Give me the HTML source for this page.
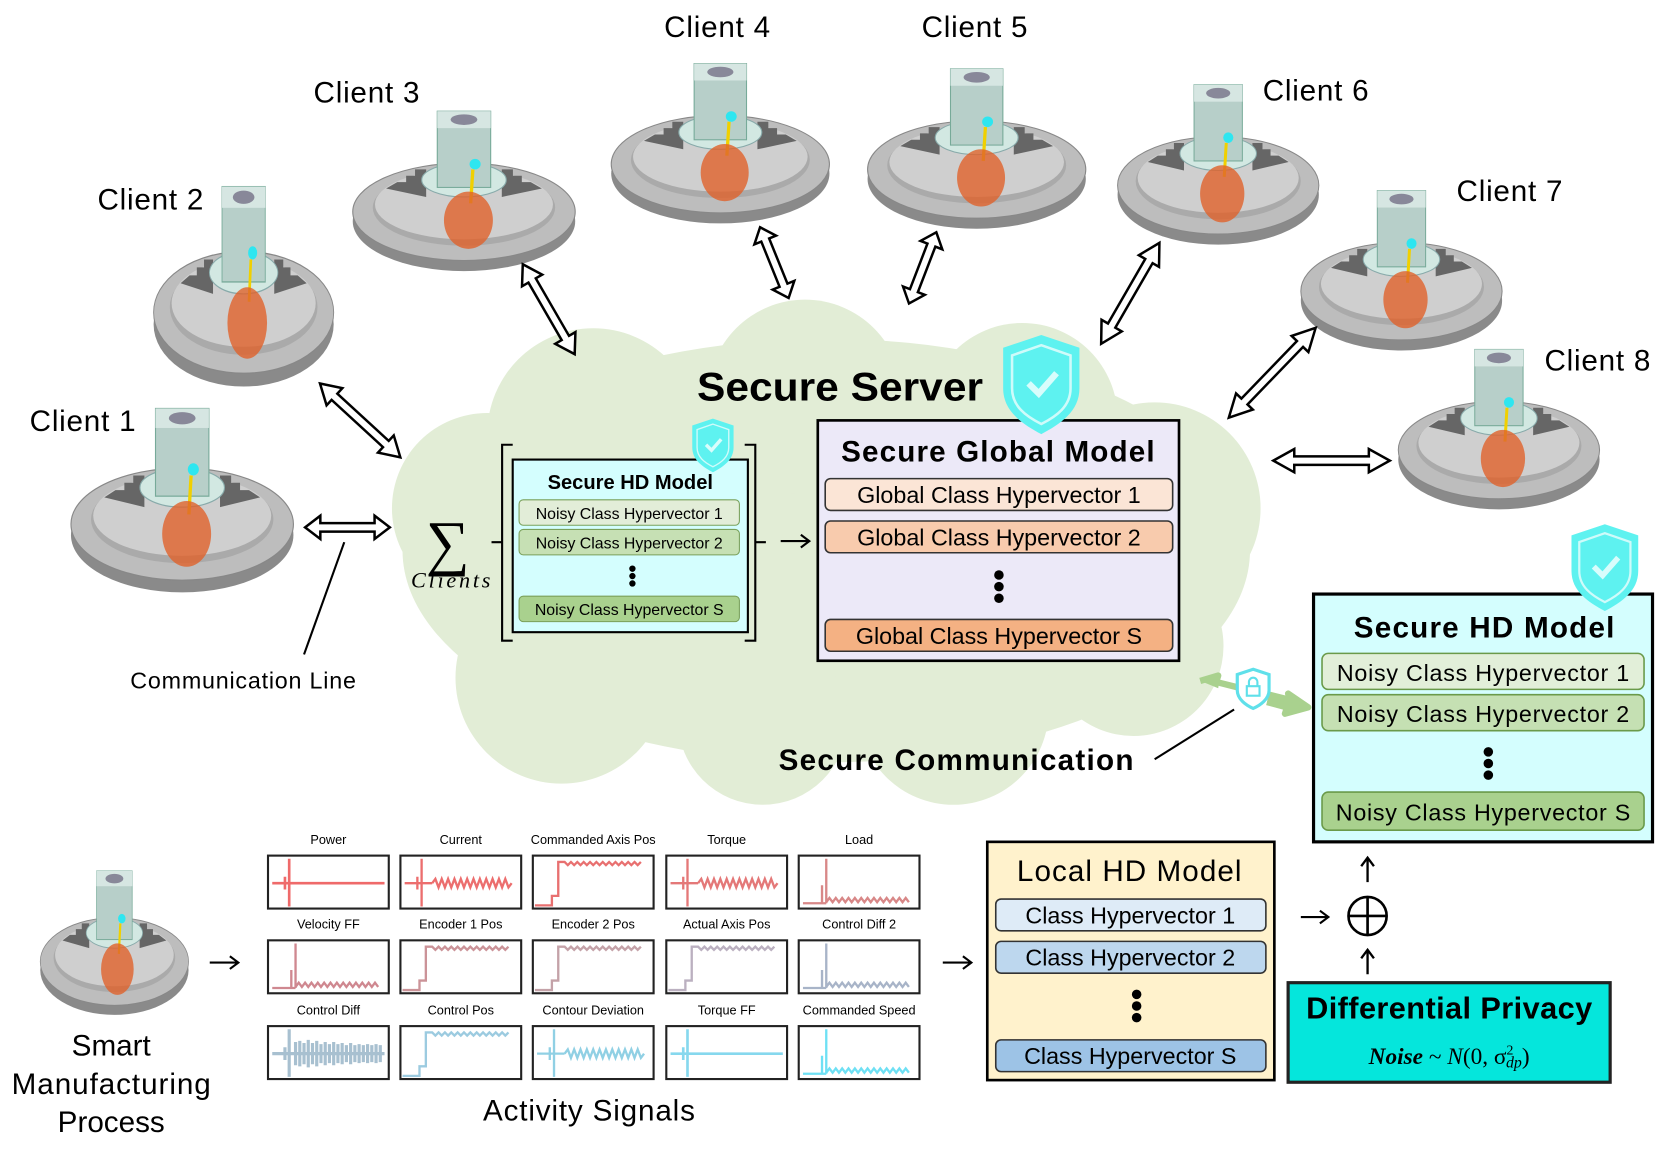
<!DOCTYPE html>
<html><head><meta charset="utf-8">
<style>
html,body{margin:0;padding:0;background:#fff;}
svg{display:block;}
.s{font-family:"Liberation Sans",sans-serif;}
.sf{font-family:"Liberation Serif","DejaVu Serif",serif;}
</style></head>
<body>
<svg width="1661" height="1150" viewBox="0 0 1568 1086" preserveAspectRatio="none" xmlns="http://www.w3.org/2000/svg" class="s" font-family="Liberation Sans, sans-serif">
<defs>
 <g id="mach">
  <ellipse cx="0" cy="9" rx="100" ry="47" fill="#8a8a8a"/>
  <ellipse cx="0" cy="0" rx="100" ry="46" fill="#bdbdbd" stroke="#888" stroke-width="1"/>
  <ellipse cx="0" cy="-4" rx="82" ry="36" fill="#aaaaaa"/>
  <ellipse cx="0" cy="-7" rx="80" ry="33" fill="#cfcfcf"/>
  <path d="M-70,-22 l10,-6 h8 v-6 h8 v-6 h10 v26 z" fill="#666"/>
  <path d="M70,-22 l-10,-6 h-8 v-6 h-8 v-6 h-10 v26 z" fill="#666"/>
  <ellipse cx="0" cy="-30" rx="38" ry="16" fill="#d2e8e2" stroke="#8aa" stroke-width="1"/>
  <rect x="-24" y="-95" width="48" height="72" fill="#b7cfc9" stroke="#7a9" stroke-width="1"/>
  <rect x="-24" y="-95" width="48" height="16" fill="#d6e6e2"/>
  <ellipse cx="0" cy="-87" rx="12" ry="5" fill="#889"/>
  <circle cx="10" cy="-45" r="5" fill="#2ee6f0"/>
  <line x1="8" y1="-40" x2="6" y2="-8" stroke="#f0d000" stroke-width="3"/>
  <ellipse cx="4" cy="8" rx="22" ry="27" fill="#e0622a" opacity="0.8"/>
 </g>
 <g id="shield">
  <path d="M0,-38 L30,-28 L30,4 C30,22 15,32 0,40 C-15,32 -30,22 -30,4 L-30,-28 Z" fill="#5ef2f0"/>
  <path d="M0,-30 L23,-22 L23,4 C23,18 12,26 0,32 C-12,26 -23,18 -23,4 L-23,-22 Z" fill="none" stroke="#cffbfa" stroke-width="2"/>
  <path d="M-10,0 L-2,8 L12,-8" fill="none" stroke="#d8fdfc" stroke-width="5"/>
 </g>
 <polygon id="darrow" points="-50,0 -32,-11 -32,-4 32,-4 32,-11 50,0 32,11 32,4 -32,4 -32,11" fill="#fff" stroke="#000" stroke-width="2.5" vector-effect="non-scaling-stroke"/>
 <path id="spikeflat" d="M4,26 H110 M16,26 v-6 v12 M20,3 V48" fill="none" stroke="currentColor" stroke-width="2.5"/>
 <path id="spikewave" d="M4,26 H30 M16,26 v-6 v12 M20,3 V48 M30,26 l3,-4 l3,8 l3,-8 l3,8 l3,-8 l3,8 l3,-8 l3,8 l3,-8 l3,8 l3,-8 l3,8 l3,-8 l3,8 l3,-8 l3,8 l3,-8 l3,8 l3,-8 l3,8 l3,-8 l3,8 l3,-8 l3,8 l3,-4" fill="none" stroke="currentColor" stroke-width="2.2"/>
 <path id="step" d="M2,47 H18 V38 H24 V6 H30 l3,3 l3,-3 l3,3 l3,-3 l3,3 l3,-3 l3,3 l3,-3 l3,3 l3,-3 l3,3 l3,-3 l3,3 l3,-3 l3,3 l3,-3 l3,3 l3,-3 l3,3 l3,-3 l3,3 l3,-3 l3,3 l3,-3" fill="none" stroke="currentColor" stroke-width="2.2"/>
 <path id="decay" d="M4,45 H26 M22,45 V28 M26,45 V3 M26,44 l3,-4 l3,4 l3,-4 l3,4 l3,-4 l3,4 l3,-4 l3,4 l3,-4 l3,4 l3,-4 l3,4 l3,-4 l3,4 l3,-4 l3,4 l3,-4 l3,4 l3,-4 l3,4 l3,-4 l3,4 l3,-4 l3,4 l3,-4 l3,4" fill="none" stroke="currentColor" stroke-width="2.2"/>
 <path id="noisy" d="M4,26 H110 M20,3 V48 M16,20 v12 M26,15 v22 M30,14 v24 M34,16 v20 M38,13 v26 M42,16 v20 M46,14 v24 M50,17 v18 M54,15 v22 M58,17 v18 M62,15 v22 M66,17 v18 M70,16 v20 M74,18 v16 M78,16 v20 M82,18 v16 M86,17 v18 M90,18 v16 M94,17 v18 M98,18 v16 M102,17 v18 M106,18 v16" fill="none" stroke="currentColor" stroke-width="3"/>
</defs>

<!-- cloud -->
<g fill="#e2edd6">
 <ellipse cx="780" cy="520" rx="400" ry="200"/>
 <circle cx="560" cy="410" r="100"/>
 <circle cx="760" cy="375" r="92"/>
 <circle cx="965" cy="395" r="90"/>
 <circle cx="1090" cy="480" r="100"/>
 <circle cx="460" cy="480" r="90"/>
 <circle cx="530" cy="640" r="100"/>
 <circle cx="720" cy="680" r="80"/>
 <circle cx="900" cy="670" r="90"/>
 <circle cx="1070" cy="610" r="85"/>
</g>

<!-- clients -->
<use href="#mach" transform="translate(172,495) scale(1.05,1.15)"/>
<use href="#mach" transform="translate(230,295) scale(0.85,1.25)"/>
<use href="#mach" transform="translate(438,200) scale(1.05,1)"/>
<use href="#mach" transform="translate(680,155) scale(1.03,1)"/>
<use href="#mach" transform="translate(922,160) scale(1.03,1)"/>
<use href="#mach" transform="translate(1150,175) scale(0.95,1)"/>
<use href="#mach" transform="translate(1323,275) scale(0.95,1)"/>
<use href="#mach" transform="translate(1415,425) scale(0.95,1)"/>
<use href="#mach" transform="translate(108,908) scale(0.7,0.9)"/>

<g font-size="28" fill="#000">
 <text x="28" y="407" textLength="100">Client 1</text>
 <text x="92" y="198" textLength="100">Client 2</text>
 <text x="296" y="97" textLength="100">Client 3</text>
 <text x="627" y="35" textLength="100">Client 4</text>
 <text x="870" y="35" textLength="100">Client 5</text>
 <text x="1192" y="95" textLength="100">Client 6</text>
 <text x="1375" y="190" textLength="100">Client 7</text>
 <text x="1458" y="350" textLength="100">Client 8</text>
</g>

<!-- double arrows -->
<use href="#darrow" transform="translate(328,498) scale(0.8,1)"/>
<use href="#darrow" transform="translate(340,397) rotate(42.6) scale(1.03,1)"/>
<use href="#darrow" transform="translate(518,292) rotate(60) scale(0.98,1)"/>
<use href="#darrow" transform="translate(731,248) rotate(68) scale(0.72,1)"/>
<use href="#darrow" transform="translate(871,253) rotate(111) scale(0.72,1)"/>
<use href="#darrow" transform="translate(1067,277) rotate(120) scale(1.1,1)"/>
<use href="#darrow" transform="translate(1201,352) rotate(134) scale(1.18,1)"/>
<use href="#darrow" transform="translate(1257,435) scale(1.1,1)"/>

<line x1="287" y1="618" x2="325" y2="512" stroke="#000" stroke-width="2"/>
<text x="123" y="650" font-size="22" textLength="213">Communication Line</text>

<!-- server -->
<text x="658" y="378" font-size="38" font-weight="bold" textLength="270" lengthAdjust="spacingAndGlyphs">Secure Server</text>

<!-- sigma -->
<text x="402" y="532" font-size="58" class="sf" style="font-family:'Liberation Serif','DejaVu Serif',serif">∑</text>
<text x="388" y="555" font-size="21" font-style="italic" style="font-family:'Liberation Serif','DejaVu Serif',serif" textLength="75">Clients</text>
<path d="M484,420 h-10 v92 h-10 h10 v93 h10" fill="none" stroke="#000" stroke-width="2"/>
<path d="M703,420 h10 v92 h10 h-10 v93 h-10" fill="none" stroke="#000" stroke-width="2"/>

<rect x="484" y="434" width="222" height="163" fill="#d4fefe" stroke="#000" stroke-width="2"/>
<text x="595" y="462" font-size="19" font-weight="bold" text-anchor="middle">Secure HD Model</text>
<rect x="490" y="472" width="208" height="24" rx="4" fill="#e2edd8" stroke="#7aa05a"/>
<rect x="490" y="500" width="208" height="24" rx="4" fill="#c6e0b4" stroke="#7aa05a"/>
<rect x="490" y="563" width="208" height="24" rx="4" fill="#a9d18e" stroke="#7aa05a"/>
<g font-size="15" text-anchor="middle">
 <text x="594" y="490">Noisy Class Hypervector 1</text>
 <text x="594" y="518">Noisy Class Hypervector 2</text>
 <text x="594" y="581">Noisy Class Hypervector S</text>
</g>
<g fill="#000"><circle cx="597" cy="537" r="3"/><circle cx="597" cy="544" r="3"/><circle cx="597" cy="551" r="3"/></g>
<use href="#shield" transform="translate(673,420) scale(0.65)"/>

<path d="M737,511 H764 M756,505 L764,511 L756,517" fill="none" stroke="#000" stroke-width="2"/>

<rect x="772" y="397" width="341" height="227" fill="#ece9f8" stroke="#000" stroke-width="2.5"/>
<text x="942" y="436" font-size="28" font-weight="bold" text-anchor="middle" textLength="296">Secure Global Model</text>
<rect x="779" y="452" width="328" height="30" rx="5" fill="#fbe5d6" stroke="#333" stroke-width="1.5"/>
<rect x="779" y="492" width="328" height="30" rx="5" fill="#f8cbad" stroke="#333" stroke-width="1.5"/>
<rect x="779" y="585" width="328" height="30" rx="5" fill="#f4b183" stroke="#333" stroke-width="1.5"/>
<g font-size="22" text-anchor="middle">
 <text x="943" y="475">Global Class Hypervector 1</text>
 <text x="943" y="515">Global Class Hypervector 2</text>
 <text x="943" y="608">Global Class Hypervector S</text>
</g>
<g fill="#000"><circle cx="943" cy="543" r="4.5"/><circle cx="943" cy="554" r="4.5"/><circle cx="943" cy="565" r="4.5"/></g>
<use href="#shield" transform="translate(983,362) scale(1.2)"/>

<!-- right secure HD -->
<rect x="1240" y="561" width="320" height="234" fill="#d4fefe" stroke="#000" stroke-width="3"/>
<text x="1401" y="602" font-size="28" font-weight="bold" text-anchor="middle" textLength="246">Secure HD Model</text>
<rect x="1248" y="617" width="304" height="34" rx="6" fill="#e2efd9" stroke="#6a9a4a" stroke-width="1.5"/>
<rect x="1248" y="656" width="304" height="34" rx="6" fill="#c5e0b3" stroke="#6a9a4a" stroke-width="1.5"/>
<rect x="1248" y="748" width="304" height="36" rx="6" fill="#a9d18e" stroke="#6a9a4a" stroke-width="1.5"/>
<g font-size="22" text-anchor="middle">
 <text x="1400" y="643" textLength="276">Noisy Class Hypervector 1</text>
 <text x="1400" y="682" textLength="276">Noisy Class Hypervector 2</text>
 <text x="1400" y="775" textLength="278">Noisy Class Hypervector S</text>
</g>
<g fill="#000"><circle cx="1405" cy="710" r="4.5"/><circle cx="1405" cy="721" r="4.5"/><circle cx="1405" cy="732" r="4.5"/></g>
<use href="#shield" transform="translate(1515,535) scale(1.05)"/>

<!-- secure communication -->
<path d="M1133,643 L1150,638 L1148,644 L1168,649 M1198,656 L1218,661 L1216,655 L1235,668 L1213,674 L1215,668 L1196,663" fill="#a9d18e" stroke="#a9d18e" stroke-width="6" stroke-linejoin="round"/>
<polygon points="1133,643 1152,636 1150,650" fill="#a9d18e"/>
<path d="M1183,632 L1198,637 L1198,652 C1198,660 1190,666 1183,669 C1176,666 1168,660 1168,652 L1168,637 Z" fill="#fff" stroke="#5fe0ea" stroke-width="3"/>
<rect x="1177" y="648" width="12" height="9" fill="none" stroke="#5fe0ea" stroke-width="2"/>
<path d="M1179,648 v-4 a4,4 0 0 1 8,0 v4" fill="none" stroke="#5fe0ea" stroke-width="2"/>
<line x1="1090" y1="717" x2="1165" y2="670" stroke="#000" stroke-width="2"/>
<text x="735" y="727" font-size="28" font-weight="bold" textLength="335">Secure Communication</text>

<!-- bottom -->
<g font-size="28" text-anchor="middle">
 <text x="105" y="997">Smart</text>
 <text x="105" y="1033" textLength="188">Manufacturing</text>
 <text x="105" y="1069">Process</text>
 <text x="556" y="1058" textLength="200">Activity Signals</text>
</g>
<path d="M198,909 H225 M217,903 L225,909 L217,915" fill="none" stroke="#000" stroke-width="2"/>
<path d="M890,909 H917 M909,903 L917,909 L909,915" fill="none" stroke="#000" stroke-width="2"/>

<g font-size="12" text-anchor="middle">
 <text x="310" y="797">Power</text><text x="435" y="797">Current</text><text x="560" y="797">Commanded Axis Pos</text><text x="686" y="797">Torque</text><text x="811" y="797">Load</text>
 <text x="310" y="877">Velocity FF</text><text x="435" y="877">Encoder 1 Pos</text><text x="560" y="877">Encoder 2 Pos</text><text x="686" y="877">Actual Axis Pos</text><text x="811" y="877">Control Diff 2</text>
 <text x="310" y="958">Control Diff</text><text x="435" y="958">Control Pos</text><text x="560" y="958">Contour Deviation</text><text x="686" y="958">Torque FF</text><text x="811" y="958">Commanded Speed</text>
</g>
<g fill="#fff" stroke="#222" stroke-width="2">
 <rect x="253" y="808" width="114" height="50"/><rect x="378" y="808" width="114" height="50"/><rect x="503" y="808" width="114" height="50"/><rect x="629" y="808" width="114" height="50"/><rect x="754" y="808" width="114" height="50"/>
 <rect x="253" y="888" width="114" height="50"/><rect x="378" y="888" width="114" height="50"/><rect x="503" y="888" width="114" height="50"/><rect x="629" y="888" width="114" height="50"/><rect x="754" y="888" width="114" height="50"/>
 <rect x="253" y="969" width="114" height="50"/><rect x="378" y="969" width="114" height="50"/><rect x="503" y="969" width="114" height="50"/><rect x="629" y="969" width="114" height="50"/><rect x="754" y="969" width="114" height="50"/>
</g>
<use href="#spikeflat" x="253" y="808" style="color:#ef6a6a"/>
<use href="#spikewave" x="378" y="808" style="color:#ec6e6e"/>
<use href="#step" x="503" y="808" style="color:#e87070"/>
<use href="#spikewave" x="629" y="808" style="color:#e47878"/>
<use href="#decay" x="754" y="808" style="color:#d88888"/>
<use href="#decay" x="253" y="888" style="color:#cf8890"/>
<use href="#step" x="378" y="888" style="color:#cb9398"/>
<use href="#step" x="503" y="888" style="color:#c4a2a8"/>
<use href="#step" x="629" y="888" style="color:#bbb0c0"/>
<use href="#decay" x="754" y="888" style="color:#a8b4c8"/>
<use href="#noisy" x="253" y="969" style="color:#a8c0d0"/>
<use href="#step" x="378" y="969" style="color:#9ccbe0"/>
<use href="#spikewave" x="503" y="969" style="color:#90d0e4"/>
<use href="#spikeflat" x="629" y="969" style="color:#86d8ee"/>
<use href="#decay" x="754" y="969" style="color:#6ee0f4"/>

<!-- local HD -->
<rect x="932" y="795" width="271" height="225" fill="#fff2cc" stroke="#000" stroke-width="2.5"/>
<text x="1066" y="832" font-size="28" text-anchor="middle" textLength="212">Local HD Model</text>
<rect x="940" y="849" width="255" height="30" rx="5" fill="#deebf7" stroke="#333" stroke-width="1.5"/>
<rect x="940" y="889" width="255" height="30" rx="5" fill="#bdd7ee" stroke="#333" stroke-width="1.5"/>
<rect x="940" y="982" width="255" height="30" rx="5" fill="#9dc3e6" stroke="#333" stroke-width="1.5"/>
<g font-size="22" text-anchor="middle">
 <text x="1067" y="872">Class Hypervector 1</text>
 <text x="1067" y="912">Class Hypervector 2</text>
 <text x="1067" y="1005">Class Hypervector S</text>
</g>
<g fill="#000"><circle cx="1073" cy="939" r="4.5"/><circle cx="1073" cy="950" r="4.5"/><circle cx="1073" cy="961" r="4.5"/></g>

<path d="M1228,866 H1254 M1246,860 L1254,866 L1246,872" fill="none" stroke="#000" stroke-width="2"/>
<circle cx="1291" cy="865" r="18" fill="none" stroke="#000" stroke-width="2.5"/>
<path d="M1273,865 H1309 M1291,847 V883" stroke="#000" stroke-width="2.5"/>
<path d="M1291,833 V810 M1285,818 L1291,810 L1297,818" fill="none" stroke="#000" stroke-width="2.2"/>
<path d="M1291,920 V897 M1285,905 L1291,897 L1297,905" fill="none" stroke="#000" stroke-width="2.2"/>

<rect x="1216" y="928" width="304" height="94" fill="#05e6dc" stroke="#222" stroke-width="3"/>
<text x="1368" y="962" font-size="29" font-weight="bold" text-anchor="middle" textLength="270">Differential Privacy</text>
<text x="1368" y="1005" font-size="22" text-anchor="middle" style="font-family:'Liberation Serif','DejaVu Serif',serif"><tspan font-style="italic" font-weight="bold">Noise</tspan> ~ <tspan font-style="italic">N</tspan>(0, σ<tspan font-size="13" dy="-9">2</tspan><tspan font-size="15" dy="12" dx="-7" font-style="italic">dp</tspan><tspan dy="-3">)</tspan></text>
</svg>
</body></html>
